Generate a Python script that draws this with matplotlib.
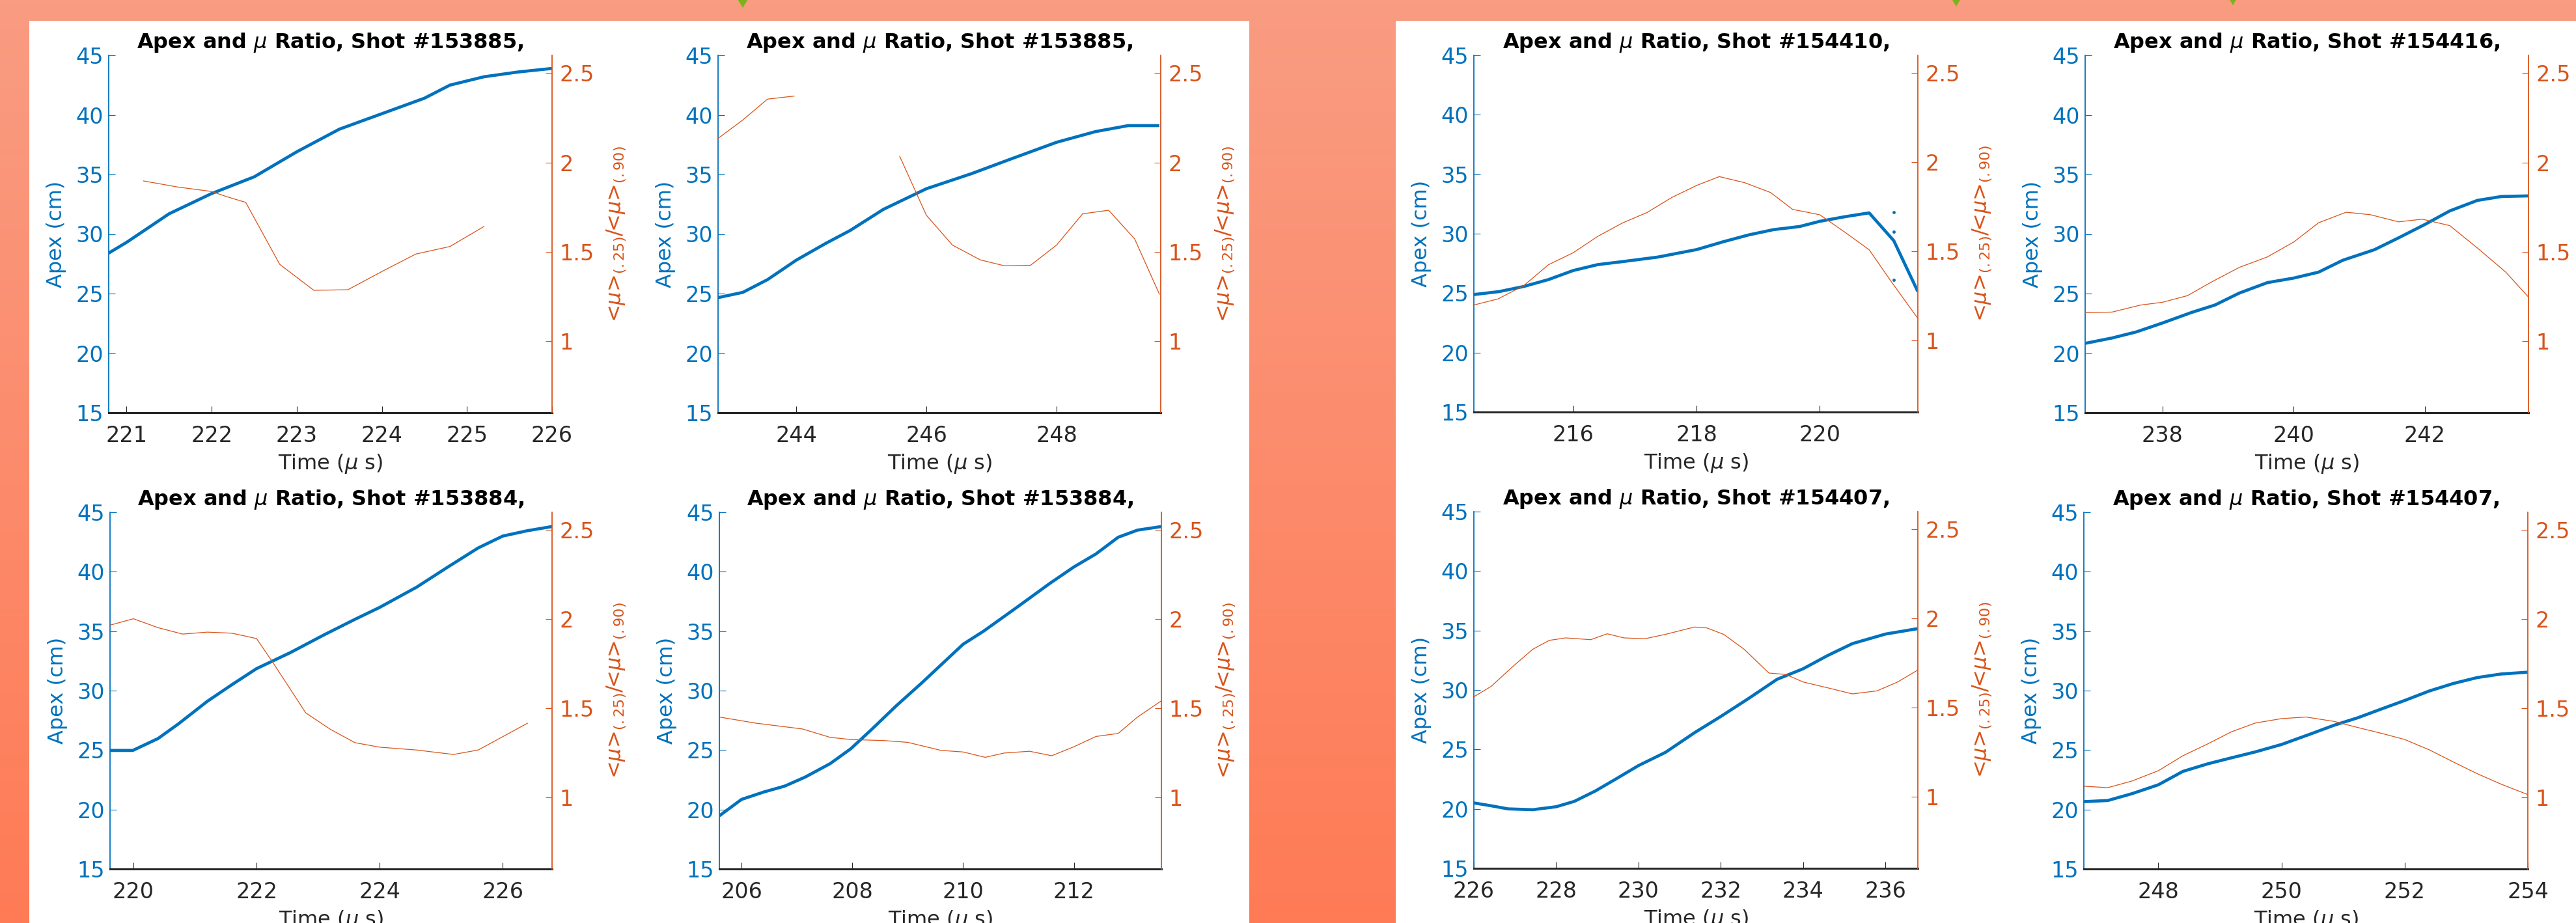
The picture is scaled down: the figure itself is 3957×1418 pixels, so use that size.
import numpy as np
import matplotlib.pyplot as plt
from matplotlib.patches import Rectangle, Polygon
from matplotlib.ticker import FormatStrFormatter

W, H = 3957, 1418
DPI = 100

blue = "#0072BD"
orange = "#D95319"
dark = "#262626"

# ---- data ----
# shot 153885 (top-left pair)
t_a = [220.79, 221.0, 221.5, 222.0, 222.5, 223.0, 223.5, 224.0, 224.5, 224.8, 225.2, 225.6, 226.0]
apex_a = [28.4, 29.3, 31.7, 33.4, 34.8, 36.9, 38.8, 40.1, 41.4, 42.5, 43.2, 43.6, 43.9]
tr_a = [221.2, 221.6, 222.0, 222.17, 222.4, 222.8, 223.2, 223.6, 224.0, 224.4, 224.8, 225.2]
ratio_a = [1.897, 1.863, 1.838, 1.81, 1.777, 1.43, 1.285, 1.288, 1.39, 1.488, 1.53, 1.642]

t_b = [242.8, 243.18, 243.56, 244.0, 244.45, 244.83, 245.34, 246.0, 246.7, 247.3, 248.0, 248.6, 249.1, 249.58]
apex_b = [24.66, 25.1, 26.17, 27.8, 29.2, 30.3, 32.07, 33.8, 35.08, 36.3, 37.7, 38.6, 39.1, 39.1]
tr_b = [242.8, 243.18, 243.56, 243.97, np.nan, 245.59, 246.0, 246.4, 246.83, 247.2, 247.6,
        248.0, 248.4, 248.8, 249.2, 249.58]
ratio_b = [2.135, 2.238, 2.355, 2.372, np.nan, 2.035, 1.705, 1.538, 1.455, 1.422, 1.425,
           1.538, 1.713, 1.733, 1.572, 1.263]

# shot 153884 (bottom-left pair)
t_c = [219.62, 219.99, 220.4, 220.73, 221.2, 221.6, 222.0, 222.55, 223.1, 223.6, 224.0,
       224.6, 225.1, 225.6, 226.0, 226.4, 226.8]
apex_c = [24.97, 24.97, 25.97, 27.2, 29.1, 30.5, 31.85, 33.2, 34.7, 36.0, 37.0,
          38.7, 40.37, 42.0, 43.0, 43.45, 43.8]
tr_c = [219.62, 220.0, 220.4, 220.8, 221.2, 221.6, 222.0, 222.28, 222.8, 223.2, 223.6,
        224.0, 224.6, 225.2, 225.6, 226.0, 226.4]
ratio_c = [1.967, 2.003, 1.953, 1.917, 1.928, 1.922, 1.892, 1.75, 1.475, 1.383, 1.308,
           1.283, 1.267, 1.242, 1.267, 1.342, 1.417]

t_d = [205.6, 206.0, 206.4, 206.78, 207.15, 207.6, 207.97, 208.35, 208.8, 209.25, 210.0,
       210.37, 210.97, 211.57, 212.0, 212.4, 212.8, 213.15, 213.58]
apex_d = [19.47, 20.85, 21.47, 21.97, 22.73, 23.86, 25.1, 26.74, 28.75, 30.63, 33.9,
          35.0, 37.0, 39.03, 40.4, 41.5, 42.9, 43.5, 43.8]
tr_d = [205.6, 206.25, 207.1, 207.6, 207.97, 208.57, 209.0, 209.6, 210.0, 210.4, 210.74,
        211.2, 211.6, 212.0, 212.4, 212.8, 213.15, 213.58]
ratio_d = [1.452, 1.418, 1.385, 1.338, 1.326, 1.32, 1.31, 1.265, 1.256, 1.226, 1.25,
           1.26, 1.235, 1.285, 1.343, 1.36, 1.452, 1.543]

# shot 154410 / 154416 (top-right pair)
t_e = [214.39, 214.8, 215.2, 215.6, 216.0, 216.4, 216.8, 217.37, 218.0, 218.44, 218.85,
       219.25, 219.67, 220.0, 220.4, 220.8, 221.2, 221.59]
apex_e = [24.88, 25.13, 25.56, 26.14, 26.9, 27.4, 27.65, 28.03, 28.66, 29.33, 29.9,
          30.34, 30.6, 31.04, 31.42, 31.75, 29.41, 25.13]
t_e_dots = [221.2, 221.2, 221.2]
apex_e_dots = [31.8, 30.17, 26.14]
tr_e = [214.39, 214.78, 215.2, 215.6, 216.0, 216.4, 216.8, 217.2, 217.6, 218.0, 218.37,
        218.78, 219.2, 219.56, 219.77, 220.0, 220.4, 220.8, 221.17, 221.59]
ratio_e = [1.2, 1.234, 1.309, 1.426, 1.493, 1.585, 1.66, 1.719, 1.803, 1.87, 1.92,
           1.886, 1.831, 1.736, 1.722, 1.706, 1.61, 1.51, 1.326, 1.125]

t_f = [236.82, 237.23, 237.6, 238.0, 238.44, 238.8, 239.17, 239.6, 240.0, 240.38, 240.75,
       241.23, 241.6, 242.0, 242.38, 242.8, 243.17, 243.58]
apex_f = [20.82, 21.27, 21.78, 22.53, 23.41, 24.04, 25.04, 25.92, 26.3, 26.8, 27.8,
          28.68, 29.68, 30.8, 31.94, 32.82, 33.15, 33.2]
tr_f = [236.82, 237.23, 237.66, 238.0, 238.38, 238.74, 239.17, 239.6, 240.0, 240.38, 240.8,
        241.17, 241.6, 241.96, 242.38, 242.8, 243.23, 243.58]
ratio_f = [1.16, 1.163, 1.202, 1.218, 1.255, 1.33, 1.413, 1.472, 1.555, 1.663, 1.722,
           1.708, 1.668, 1.683, 1.647, 1.522, 1.388, 1.247]

# shot 154407 (bottom-right pair)
t_g = [226.0, 226.42, 226.83, 227.43, 228.0, 228.44, 228.95, 229.45, 230.0, 230.66, 231.36,
       232.0, 232.67, 233.37, 234.0, 234.6, 235.2, 236.0, 236.79]
apex_g = [20.5, 20.26, 20.0, 19.93, 20.18, 20.63, 21.5, 22.51, 23.64, 24.76, 26.4,
          27.77, 29.27, 30.9, 31.78, 32.9, 33.9, 34.7, 35.16]
tr_g = [226.0, 226.42, 226.93, 227.43, 227.83, 228.23, 228.84, 229.24, 229.65, 230.15, 230.66,
        231.36, 231.66, 232.07, 232.57, 233.17, 233.58, 234.0, 234.6, 235.2, 235.8, 236.3, 236.79]
ratio_g = [1.562, 1.62, 1.728, 1.828, 1.878, 1.892, 1.882, 1.915, 1.892, 1.887, 1.912,
           1.953, 1.948, 1.912, 1.828, 1.695, 1.687, 1.645, 1.612, 1.578, 1.595, 1.645, 1.712]

t_h = [246.79, 247.18, 247.57, 248.0, 248.4, 248.8, 249.18, 249.57, 250.0, 250.47, 250.86,
       251.24, 251.63, 252.0, 252.4, 252.79, 253.18, 253.57, 254.0]
apex_h = [20.66, 20.76, 21.33, 22.08, 23.21, 23.84, 24.34, 24.84, 25.47, 26.35, 27.1,
          27.72, 28.47, 29.17, 29.97, 30.6, 31.1, 31.4, 31.55]
tr_h = [246.79, 247.18, 247.57, 248.0, 248.4, 248.8, 249.18, 249.57, 250.0, 250.4, 250.86,
        251.24, 251.63, 252.0, 252.4, 252.79, 253.18, 253.57, 254.0]
ratio_h = [1.064, 1.056, 1.093, 1.151, 1.235, 1.301, 1.368, 1.418, 1.443, 1.452, 1.427,
           1.393, 1.36, 1.326, 1.268, 1.2, 1.134, 1.075, 1.017]

shots = ["153885", "153885", "153884", "153884", "154410", "154416", "154407", "154407"]
xlims = [(220.79, 226.0), (242.8, 249.6), (219.62, 226.8), (205.6, 213.58),
         (214.39, 221.59), (236.82, 243.58), (226.0, 236.79), (246.79, 254.0)]
xticks = [[221, 222, 223, 224, 225, 226], [244, 246, 248], [220, 222, 224, 226],
          [206, 208, 210, 212], [216, 218, 220], [238, 240, 242],
          [226, 228, 230, 232, 234, 236], [248, 250, 252, 254]]

# axes boxes in pixels: left, top, right, bottom
boxes = [(167, 85, 848, 634), (1103, 85, 1783, 634),
         (169, 787, 848, 1335), (1105, 787, 1784, 1335),
         (2264, 85, 2946, 633), (3203, 85, 3884, 634),
         (2264, 786, 2946, 1334), (3201, 787, 3883, 1335)]

series = [(t_a, apex_a, tr_a, ratio_a), (t_b, apex_b, tr_b, ratio_b),
          (t_c, apex_c, tr_c, ratio_c), (t_d, apex_d, tr_d, ratio_d),
          (t_e, apex_e, tr_e, ratio_e), (t_f, apex_f, tr_f, ratio_f),
          (t_g, apex_g, tr_g, ratio_g), (t_h, apex_h, tr_h, ratio_h)]

fig = plt.figure(figsize=(W / DPI, H / DPI), dpi=DPI)

# orange gradient background
bg = fig.add_axes([0, 0, 1, 1], zorder=-10)
top_c = np.array([249, 156, 130]) / 255
bot_c = np.array([255, 123, 86]) / 255
g = np.linspace(0, 1, 256)[:, None, None]
grad = top_c * (1 - g) + bot_c * g
bg.imshow(np.repeat(grad, 2, axis=1), aspect="auto", extent=[0, 1, 0, 1])
bg.axis("off")


def frac_rect(x0, y0, x1, y1):
    return (x0 / W, 1 - y1 / H), (x1 - x0) / W, (y1 - y0) / H


for x0, y0, x1, y1 in [(45, 32, 1919, 1418), (2144, 32, 3957, 1418)]:
    xy, w, h = frac_rect(x0, y0, x1, y1)
    fig.add_artist(Rectangle(xy, w, h, transform=fig.transFigure,
                             facecolor="white", edgecolor="none", zorder=-5))

# small green leaf tips peeking in at the top edge
for cx, sz in [(1141, 12), (3005, 10), (3430, 8)]:
    pts = [((cx - sz * 0.6) / W, 1), ((cx + sz * 0.6) / W, 1), (cx / W, 1 - sz / H)]
    fig.add_artist(Polygon(pts, closed=True, transform=fig.transFigure,
                           facecolor="#7DB21C", edgecolor="none", zorder=-4))

ratio_label = r"<$\mu$>$_{(.25)}$/<$\mu$>$_{(.90)}$"

for i in range(8):
    l, t, r, b = boxes[i]
    ax = fig.add_axes([l / W, 1 - b / H, (r - l) / W, (b - t) / H])
    ax.set_facecolor("none")
    ta, ap, tr, ra = series[i]
    ax.plot(ta, ap, color=blue, lw=3.4, solid_capstyle="butt")
    if i == 4:
        ax.plot(t_e_dots, apex_e_dots, ls="none", marker="o", ms=2.5, color=blue)
    ax.set_xlim(*xlims[i])
    ax.set_ylim(15, 45)
    ax.set_yticks([15, 20, 25, 30, 35, 40, 45])
    ax.set_xticks(xticks[i])

    ax2 = ax.twinx()
    ax2.plot(tr, ra, color=orange, lw=0.9)
    ax2.set_ylim(0.6, 2.6)
    ax2.set_yticks([1, 1.5, 2, 2.5])
    ax2.yaxis.set_major_formatter(FormatStrFormatter("%g"))

    for s in ["top", "right"]:
        ax.spines[s].set_visible(False)
    for s in ["top", "left", "bottom"]:
        ax2.spines[s].set_visible(False)
    ax.spines["left"].set_color(blue)
    ax.spines["left"].set_linewidth(1.3)
    ax.spines["bottom"].set_color(dark)
    ax.spines["bottom"].set_linewidth(2.2)
    ax2.spines["right"].set_color(orange)
    ax2.spines["right"].set_linewidth(1.3)

    ax.tick_params(axis="y", direction="in", colors=blue, labelsize=24, length=7, pad=6)
    ax.tick_params(axis="x", direction="in", colors=dark, labelsize=24, length=7, pad=14)
    ax2.tick_params(axis="y", direction="in", colors=orange, labelsize=24, length=7, pad=8)

    ax.set_title(r"Apex and $\mu$ Ratio, Shot #%s," % shots[i],
                 fontsize=23, fontweight="bold", pad=8)
    ax.set_xlabel(r"Time ($\mu$ s)", fontsize=23, color=dark, labelpad=6)
    ax.set_ylabel("Apex (cm)", fontsize=23, color=blue, labelpad=10)
    # the right-most panels have this label beyond the picture edge
    if i not in (5, 7):
        ax2.set_ylabel(ratio_label, fontsize=23, color=orange, labelpad=12)

fig.savefig("out.png", dpi=DPI)
